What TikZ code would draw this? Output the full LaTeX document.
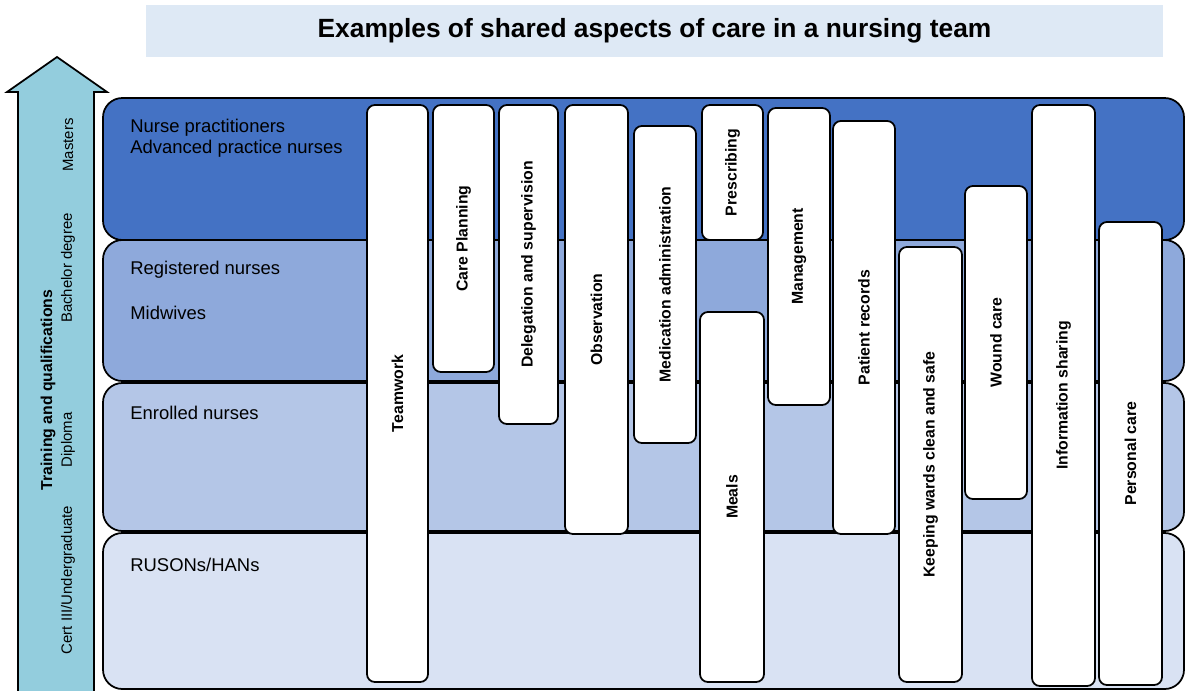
\documentclass[tikz,border=0pt]{standalone}
\usepackage{fontspec}
\setmainfont{Liberation Sans}
\usepackage{xcolor}
\usepackage{tikz}

\definecolor{titlefill}{HTML}{DEE9F5}
\definecolor{arrowfill}{HTML}{93CDDD}
\definecolor{masters}{HTML}{4472C4}
\definecolor{bachelor}{HTML}{8EA9DB}
\definecolor{diploma}{HTML}{B4C6E7}
\definecolor{certiii}{HTML}{D9E2F3}

\tikzset{
  band/.style={draw=black, line width=1pt, rounded corners=11pt},
  bandlabel/.style={anchor=west, font=\fontsize{10.5}{12}\selectfont, inner sep=0pt},
  aspect/.style={draw=black, fill=white, line width=1pt, rounded corners=4.5pt},
  aspectlabel/.style={rotate=90, font=\bfseries\fontsize{9}{11}\selectfont, inner sep=0pt},
  levellabel/.style={rotate=90, font=\fontsize{8.5}{10}\selectfont, inner sep=0pt}
}

\begin{document}
\begin{tikzpicture}[x=0.02cm, y=-0.02cm]
    \useasboundingbox (0,0) rectangle (1185,690);

    % Title
    \fill[titlefill] (146,5) rectangle (1163,57);
    \node[font=\bfseries\fontsize{15}{18}\selectfont] (title) at (654.5,31) {Examples of shared aspects of care in a nursing team};

    % Training and qualifications arrow
    \draw[fill=arrowfill, line width=1pt] (18,691) -- (18,92) -- (7,92) -- (57,57) -- (107,92) -- (94,92) -- (94,691);
    \node[rotate=90, font=\bfseries\fontsize{9}{11}\selectfont, inner sep=0pt] (training) at (48,390) {Training and qualifications};
    \node[levellabel] (mastersq) at (68,145) {Masters};
    \node[levellabel] (bachelorq) at (68,268) {Bachelor degree};
    \node[levellabel] (diplomaq) at (68,440) {Diploma};
    \node[levellabel] (certq) at (68,580) {Cert III/Undergraduate};

    % Staff levels
    \draw[band, fill=masters] (103,98) rectangle (1184,240);
    \draw[band, fill=bachelor] (103,240) rectangle (1184,381);
    \draw[band, fill=diploma] (103,383) rectangle (1184,531);
    \draw[band, fill=certiii] (103,533) rectangle (1184,689);

    \node[bandlabel] (np) at (130,128) {Nurse practitioners};
    \node[bandlabel] (apn) at (130,149) {Advanced practice nurses};
    \node[bandlabel] (rn) at (130,270) {Registered nurses};
    \node[bandlabel] (mw) at (130,313) {Midwives};
    \node[bandlabel] (en) at (130,413) {Enrolled nurses};
    \node[bandlabel] (ruson) at (130,565) {RUSONs/HANs};

    % Shared aspects of care
    \draw[aspect] (367,105) rectangle (428,682) node[pos=.5, aspectlabel] (teamwork) {Teamwork};
    \draw[aspect] (433,105) rectangle (494,372) node[pos=.5, aspectlabel] (careplan) {Care Planning};
    \draw[aspect] (499,105) rectangle (558,424) node[pos=.5, aspectlabel] (delegation) {Delegation and supervision};
    \draw[aspect] (565,105) rectangle (628,534) node[pos=.5, aspectlabel] (observation) {Observation};
    \draw[aspect] (634,126) rectangle (696,443) node[pos=.5, aspectlabel] (medication) {Medication administration};
    \draw[aspect] (702,105) rectangle (763,240) node[pos=.5, aspectlabel] (prescribing) {Prescribing};
    \draw[aspect] (700,312) rectangle (764,682) node[pos=.5, aspectlabel] (meals) {Meals};
    \draw[aspect] (768,108) rectangle (830,405) node[pos=.5, aspectlabel] (management) {Management};
    \draw[aspect] (833,121) rectangle (895,534) node[pos=.5, aspectlabel] (records) {Patient records};
    \draw[aspect] (899,247) rectangle (962,682) node[pos=.5, aspectlabel] (wards) {Keeping wards clean and safe};
    \draw[aspect] (965,186) rectangle (1027,499) node[pos=.5, aspectlabel] (wound) {Wound care};
    \draw[aspect] (1032,105) rectangle (1095,686) node[pos=.5, aspectlabel] (info) {Information sharing};
    \draw[aspect] (1099,222) rectangle (1162,685) node[pos=.5, aspectlabel] (personal) {Personal care};
\end{tikzpicture}
\end{document}
